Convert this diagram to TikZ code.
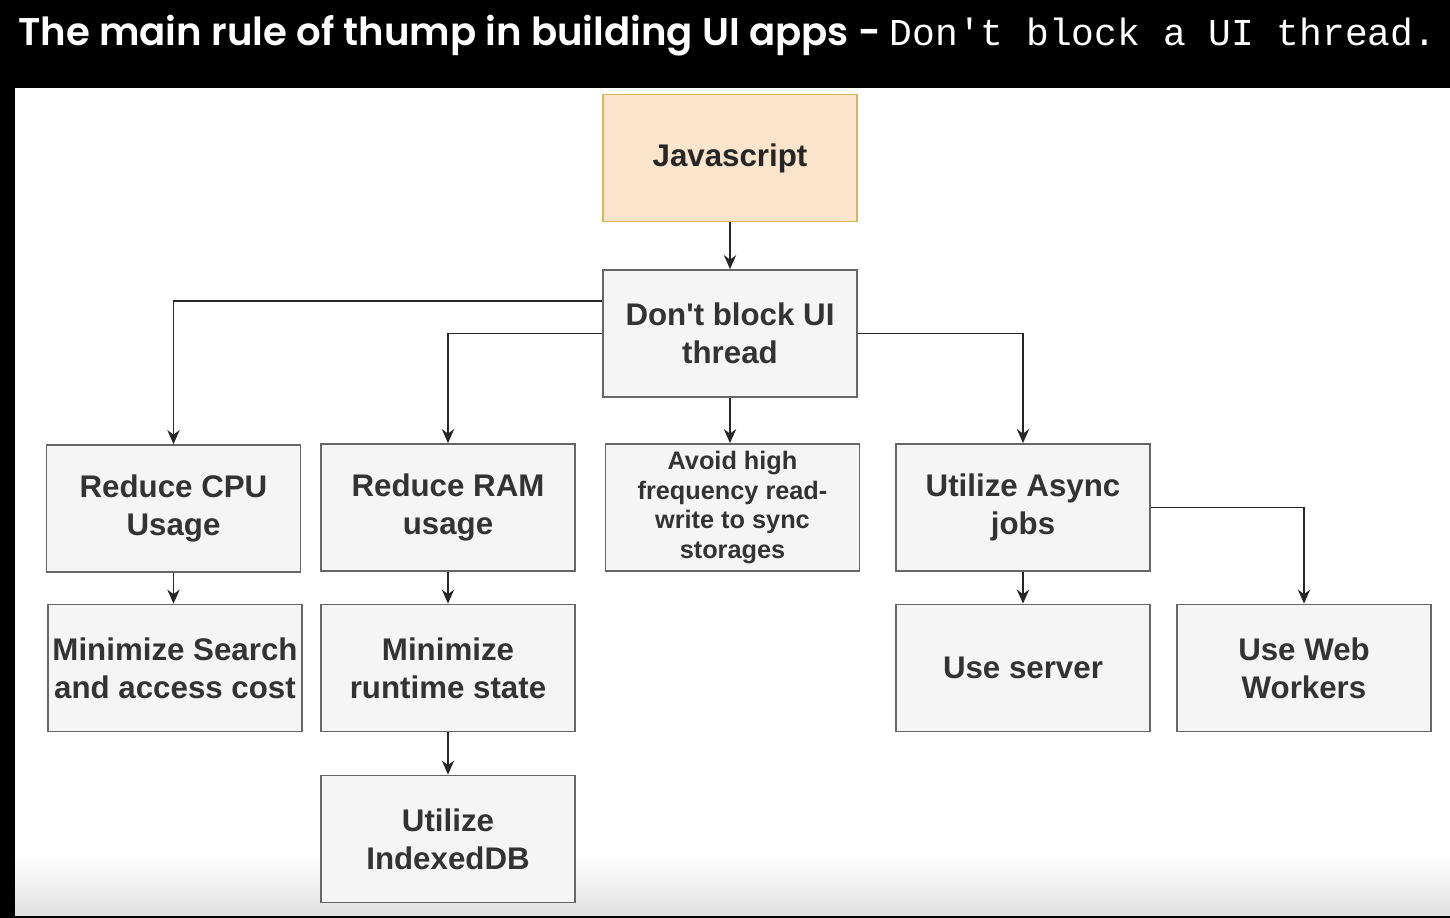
\documentclass[tikz,border=0pt]{standalone}
\usepackage{fontspec}
\setmainfont{Liberation Sans}
\newfontfamily\titlefont[BoldFont={Poppins SemiBold}]{Poppins}
\newfontfamily\codefont{Liberation Mono}
\usepackage{xcolor}
\usepackage{tikz}
\usetikzlibrary{positioning,calc,arrows.meta}

\definecolor{boxfill}{HTML}{F5F5F5}
\definecolor{boxline}{HTML}{666666}
\definecolor{jsfill}{HTML}{FAE4CB}
\definecolor{jsline}{HTML}{D6B656}
\definecolor{boxtext}{HTML}{333333}

\begin{document}
\begin{tikzpicture}[
    x=0.02cm, y=-0.02cm,
    stepbox/.style={rectangle, draw=boxline, fill=boxfill, line width=1pt,
        minimum width=5.08cm, minimum height=2.54cm, inner sep=1pt,
        align=center, text=boxtext, font=\fontsize{17.8}{21.5}\selectfont\bfseries},
    smallbox/.style={stepbox, font=\fontsize{14.4}{17}\selectfont\bfseries},
    ptr/.style={->, >={Stealth[length=8pt,width=7pt]}, line width=1pt, black!85}
]
    \useasboundingbox (0,0) rectangle (1450,918);

    % Background
    \fill[black] (0,0) rectangle (1450,918);
    \fill[white] (15,88) rectangle (1450,915);
    \shade[top color=white, bottom color=black!12] (15,855) rectangle (1450,915);

    % Title
    \node[anchor=base west, text=white, inner sep=0pt] (title) at (18,46)
        {\titlefont\bfseries\fontsize{22}{26}\selectfont The main rule of thump in building UI apps - {\codefont\mdseries\fontsize{21.6}{26}\selectfont Don't block a UI thread.}};

    % Top
    \node[stepbox, draw=jsline, fill=jsfill, text=black!85] (js) at (730,158) {Javascript};
    \node[stepbox] (block) at (730,333.5) {Don\textquotesingle t block UI\\thread};

    % Second row
    \node[stepbox] (cpu) at (173.5,508.5) {Reduce CPU\\Usage};
    \node[stepbox] (ram) at (448,507.5) {Reduce RAM\\usage};
    \node[smallbox] (avoid) at (732.5,507.5) {Avoid high\\frequency read-\\write to sync\\storages};
    \node[stepbox] (async) at (1023,507.5) {Utilize Async\\jobs};

    % Third row
    \node[stepbox] (search) at (175,668) {Minimize Search\\and access cost};
    \node[stepbox] (runtime) at (448,668) {Minimize\\runtime state};
    \node[stepbox] (server) at (1023,668) {Use server};
    \node[stepbox] (workers) at (1304,668) {Use Web\\Workers};

    % Bottom
    \node[stepbox] (idb) at (448,839) {Utilize\\IndexedDB};

    % Connectors
    \draw[ptr] (js) -- (block);
    \draw[ptr] ($(block.north west)!0.245!(block.south west)$) -| (cpu.north);
    \draw[ptr] (block.west) -| (ram.north);
    \draw[ptr] (block.south) -- (block.south |- avoid.north);
    \draw[ptr] (block.east) -| (async.north);
    \draw[ptr] (async.east) -| (workers.north);
    \draw[ptr] (cpu.south) -- (cpu.south |- search.north);
    \draw[ptr] (ram) -- (runtime);
    \draw[ptr] (runtime) -- (idb);
    \draw[ptr] (async) -- (server);
\end{tikzpicture}
\end{document}
